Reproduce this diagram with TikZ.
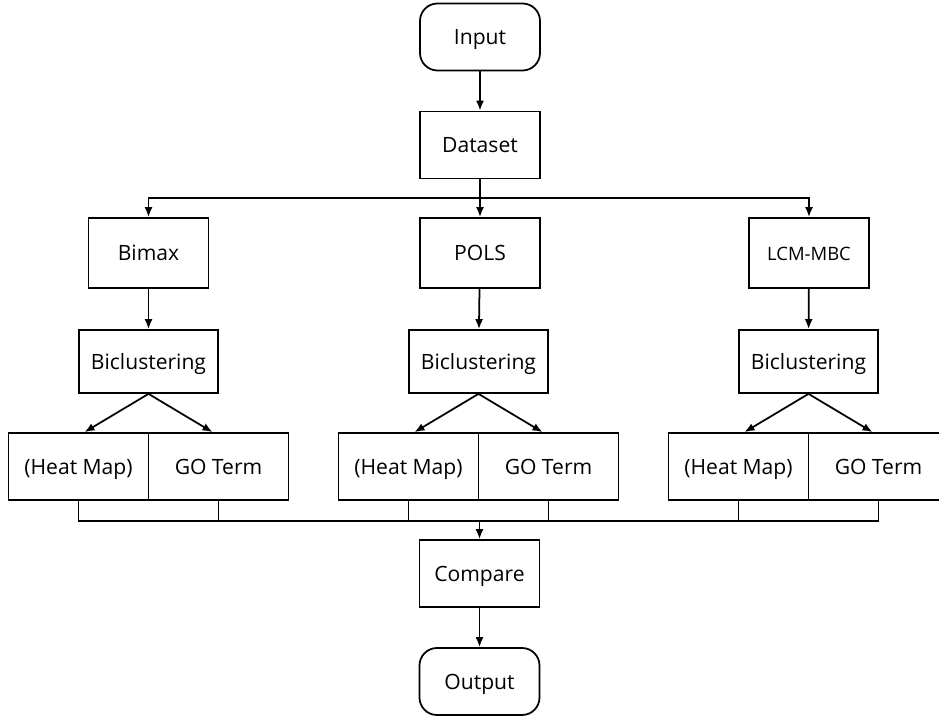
\documentclass[tikz,border=0pt]{standalone}
\usepackage{fontspec}
\setmainfont{Open Sans}
\usetikzlibrary{arrows.meta,calc}
\tikzset{
  box/.style={draw, line width=1pt, minimum width=2.4cm, minimum height=1.34cm, inner sep=1pt, text height=2.1ex, text depth=0.45ex, font=\fontsize{12}{14}\selectfont},
  term/.style={box, rounded corners=0.35cm},
  wide/.style={box, minimum width=2.8cm},
  arr/.style={line width=1pt, -{Latex[length=2mm,width=1.6mm]}},
  ln/.style={line width=1pt}
}
\begin{document}
\begin{tikzpicture}
\useasboundingbox (0,0) rectangle (18.78,-14.38);
\clip (0,0) rectangle (18.78,-14.38);
% top part
\node[term] (in) at (9.6,-0.74) {Input};
\node[box] (ds) at (9.6,-2.9) {Dataset};
\draw[arr] (in) -- (ds);
% algorithms
\node[box, minimum height=1.4cm] (bim) at (2.97,-5.06) {Bimax};
\node[box, minimum height=1.4cm] (pol) at (9.6,-5.06) {POLS};
\node[box, minimum height=1.4cm, font=\fontsize{10.5}{12}\selectfont] (lcm) at (16.18,-5.06) {LCM-MBC};
\coordinate (fan) at (9.6,-3.96);
\draw[ln] (ds) -- (fan);
\draw[arr] (fan) -| (bim.north);
\draw[arr] (fan) -- (pol);
\draw[arr] (fan) -| (lcm.north);
% biclustering and results
\foreach \i/\x/\a in {1/2.97/bim, 2/9.57/pol, 3/16.17/lcm}{
  \node[box, minimum width=2.78cm, minimum height=1.26cm] (bc\i) at (\x,-7.23) {Biclustering};
  \draw[arr] (\a) -- (bc\i);
  \node[wide] (hm\i) at (\x-1.4,-9.33) {(Heat Map)};
  \node[wide] (go\i) at (\x+1.4,-9.33) {GO Term};
  \draw[arr] (bc\i.south) -- ($(hm\i.north)+(0.12,0)$);
  \draw[arr] (bc\i.south) -- ($(go\i.north)-(0.12,0)$);
}
% collect
\coordinate (bus) at (9.59,-10.42);
\draw[ln] (hm1.south) -- (hm1.south |- bus) -- (go3.south |- bus) -- (go3.south);
\foreach \n in {go1, hm2, go2, hm3}
  \draw[ln] (\n.south) -- (\n.south |- bus);
\node[box] (cmp) at (9.59,-11.47) {Compare};
\draw[arr] (bus) -- (cmp);
\node[term] (out) at (9.59,-13.63) {Output};
\draw[arr] (cmp) -- (out);
\end{tikzpicture}
\end{document}
